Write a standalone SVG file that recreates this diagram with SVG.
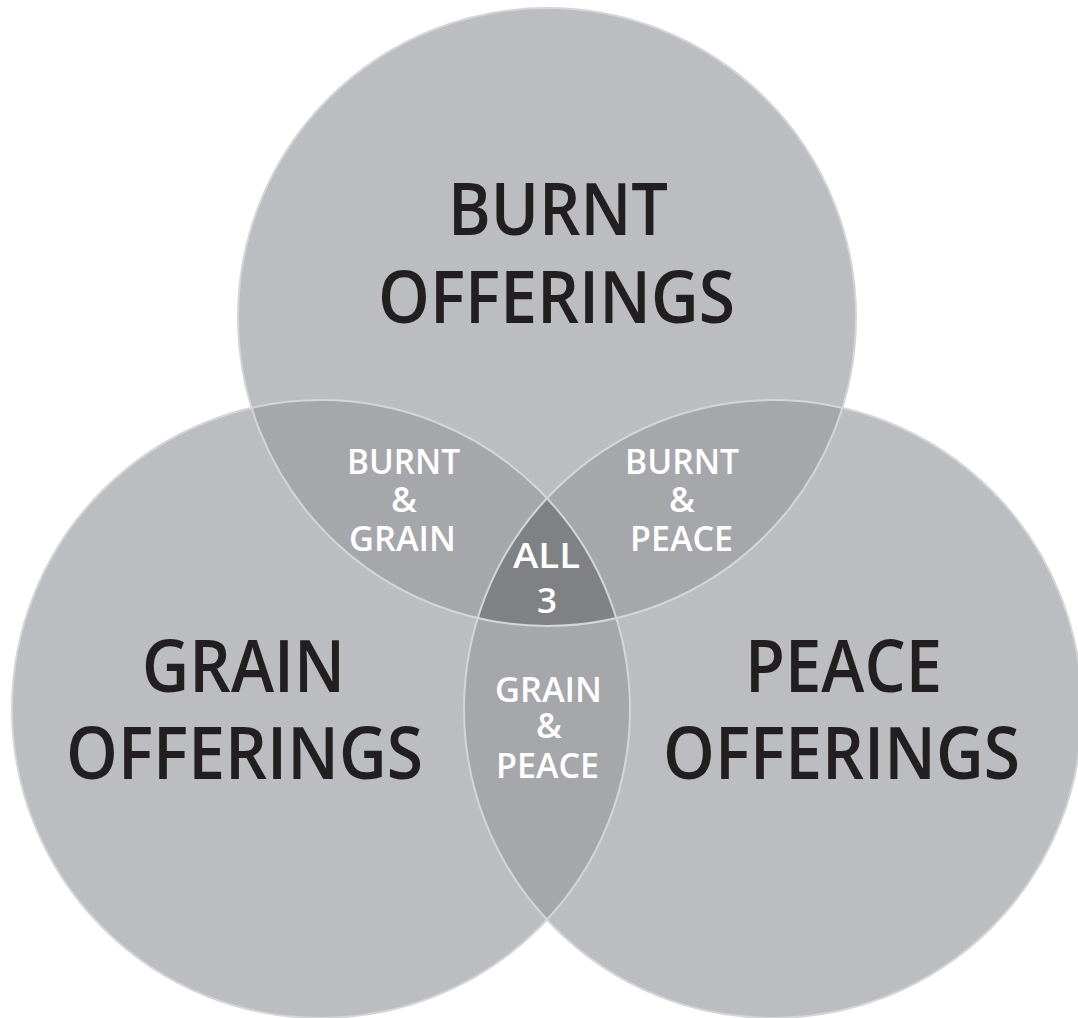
<svg xmlns="http://www.w3.org/2000/svg" width="1078" height="1018" viewBox="0 0 1078 1018">
  <style>
    .base { fill: #bcbdc0; }
    .lens { fill: #a6a7ab; }
    .core { fill: #808185; }
    .edge { fill: none; stroke: #d4d5d7; stroke-width: 2; }
    .big { font-family: "Open Sans", "Noto Sans", sans-serif; font-weight: 600; font-size: 73px; fill: #231f20; text-anchor: middle; }
    .small { font-family: "Open Sans", "Noto Sans", sans-serif; font-weight: 600; font-size: 35px; fill: #ffffff; text-anchor: middle; }
  </style>
  <rect width="1078" height="1018" fill="#ffffff"/>

  <g id="circle-burnt">
    <circle class="base" cx="547" cy="317" r="309"/>
  </g>
  <g id="circle-grain">
    <circle class="base" cx="321" cy="709" r="309"/>
  </g>
  <g id="circle-peace">
    <circle class="base" cx="773" cy="709" r="309"/>
  </g>

  <g id="lens-burnt-grain">
    <path class="lens" d="M 251.6 407.9 A 309 309 0 0 0 616.4 618.1 A 309 309 0 0 0 251.6 407.9 Z"/>
  </g>
  <g id="lens-burnt-peace">
    <path class="lens" d="M 842.4 407.9 A 309 309 0 0 1 477.6 618.1 A 309 309 0 0 1 842.4 407.9 Z"/>
  </g>
  <g id="lens-grain-peace">
    <path class="lens" d="M 547 498.3 A 309 309 0 0 1 547 919.7 A 309 309 0 0 1 547 498.3 Z"/>
  </g>
  <g id="region-all3">
    <path class="core" d="M 547 498.3 A 309 309 0 0 1 616.4 618.1 A 309 309 0 0 1 477.6 618.1 A 309 309 0 0 1 547 498.3 Z"/>
  </g>

  <g id="outlines">
    <circle class="edge" cx="547" cy="317" r="309"/>
    <circle class="edge" cx="321" cy="709" r="309"/>
    <circle class="edge" cx="773" cy="709" r="309"/>
  </g>

  <g id="label-burnt">
    <text class="big" x="558" y="235" textLength="220" lengthAdjust="spacingAndGlyphs">BURNT</text>
    <text class="big" x="556.5" y="323" textLength="357" lengthAdjust="spacingAndGlyphs">OFFERINGS</text>
  </g>
  <g id="label-grain">
    <text class="big" x="243.5" y="692" textLength="203" lengthAdjust="spacingAndGlyphs">GRAIN</text>
    <text class="big" x="244.5" y="779" textLength="357" lengthAdjust="spacingAndGlyphs">OFFERINGS</text>
  </g>
  <g id="label-peace">
    <text class="big" x="843.5" y="692" textLength="197" lengthAdjust="spacingAndGlyphs">PEACE</text>
    <text class="big" x="841.5" y="779" textLength="357" lengthAdjust="spacingAndGlyphs">OFFERINGS</text>
  </g>

  <g id="label-burnt-grain">
    <text class="small" x="403.5" y="474" textLength="113" lengthAdjust="spacingAndGlyphs">BURNT</text>
    <text class="small" x="404" y="512">&amp;</text>
    <text class="small" x="402.5" y="551" textLength="107" lengthAdjust="spacingAndGlyphs">GRAIN</text>
  </g>
  <g id="label-burnt-peace">
    <text class="small" x="682" y="474" textLength="114" lengthAdjust="spacingAndGlyphs">BURNT</text>
    <text class="small" x="682" y="512">&amp;</text>
    <text class="small" x="681.5" y="551" textLength="103" lengthAdjust="spacingAndGlyphs">PEACE</text>
  </g>
  <g id="label-all3">
    <text class="small" x="546.5" y="568" textLength="67" lengthAdjust="spacingAndGlyphs">ALL</text>
    <text class="small" x="547" y="613">3</text>
  </g>
  <g id="label-grain-peace">
    <text class="small" x="548.5" y="702" textLength="107" lengthAdjust="spacingAndGlyphs">GRAIN</text>
    <text class="small" x="549" y="738">&amp;</text>
    <text class="small" x="547.5" y="778" textLength="103" lengthAdjust="spacingAndGlyphs">PEACE</text>
  </g>
</svg>
